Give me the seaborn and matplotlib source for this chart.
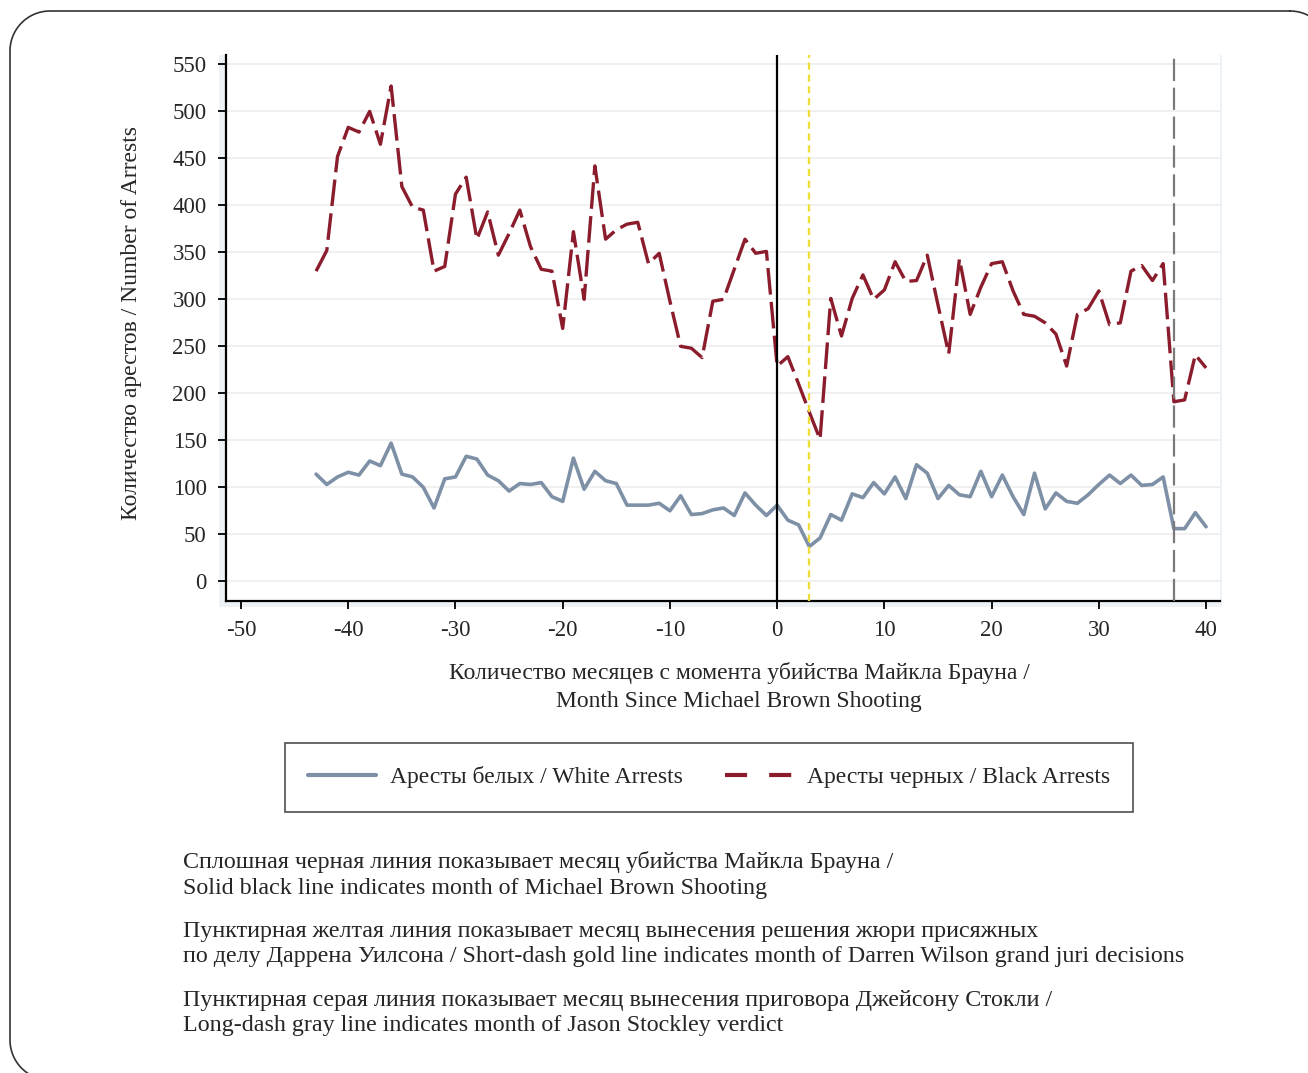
import matplotlib
matplotlib.use("Agg")
import matplotlib.pyplot as plt
from matplotlib.lines import Line2D
from matplotlib.patches import Rectangle
import numpy as np
import pandas as pd
import seaborn as sns

# ── Data ──────────────────────────────────────────────────────────────────
months = list(range(-43, 41))

white_arrests = [
    114, 103, 111, 116, 113, 128, 123, 147, 114, 111,   # -43 .. -34
    100, 78, 109, 111, 133, 130, 113, 107, 96, 104,     # -33 .. -24
    103, 105, 90, 85, 131, 98, 117, 107, 104, 81,       # -23 .. -14
    81, 81, 83, 75, 91, 71, 72, 76, 78, 70,             # -13 .. -4
    94, 81, 70, 81, 65, 60, 37, 46, 71, 65,             # -3 .. 6
    93, 89, 105, 93, 111, 88, 124, 115, 88, 102,        # 7 .. 16
    92, 90, 117, 90, 113, 90, 71, 115, 77, 94,          # 17 .. 26
    85, 83, 92, 103, 113, 104, 113, 102, 103, 111,      # 27 .. 36
    56, 56, 73, 58,                                     # 37 .. 40
]

black_arrests = [
    330, 352, 452, 483, 478, 500, 465, 527, 420, 398,   # -43 .. -34
    395, 330, 335, 412, 430, 364, 393, 347, 370, 395,   # -33 .. -24
    356, 332, 330, 269, 372, 300, 442, 364, 374, 380,   # -23 .. -14
    382, 338, 349, 298, 250, 248, 238, 298, 300, 332,   # -13 .. -4
    364, 349, 351, 229, 239, 210, 180, 151, 301, 261,   # -3 .. 6
    301, 326, 300, 310, 340, 319, 320, 347, 294, 242,   # 7 .. 16
    343, 284, 313, 338, 340, 309, 284, 282, 275, 263,   # 17 .. 26
    229, 284, 290, 309, 273, 275, 330, 336, 320, 338,   # 27 .. 36
    191, 193, 241, 227,                                 # 37 .. 40
]

event_months = [0, 3, 37]
x_ticks = list(range(-50, 41, 10))
y_ticks = list(range(0, 551, 50))

label_white = "Аресты белых / White Arrests"
label_black = "Аресты черных / Black Arrests"
x_title = "Количество месяцев с момента убийства Майкла Брауна /\nMonth Since Michael Brown Shooting"
y_title = "Количество арестов / Number of Arrests"
notes = [
    "Сплошная черная линия показывает месяц убийства Майкла Брауна /\n"
    "Solid black line indicates month of Michael Brown Shooting",
    "Пунктирная желтая линия показывает месяц вынесения решения жюри присяжных\n"
    "по делу Даррена Уилсона / Short-dash gold line indicates month of Darren Wilson grand juri decisions",
    "Пунктирная серая линия показывает месяц вынесения приговора Джейсону Стокли /\n"
    "Long-dash gray line indicates month of Jason Stockley verdict",
]

WHITE_C = "#7d90a6"
BLACK_C = "#8a1c2c"

df = pd.DataFrame({"month": months, "white": white_arrests, "black": black_arrests})

sns.set_theme(style="white")
plt.rcParams["font.family"] = ["Liberation Serif", "DejaVu Serif"]
plt.rcParams["axes.unicode_minus"] = False

W, H = 1308, 1073
fig = plt.figure(figsize=(W / 100, H / 100), dpi=100)
ax = fig.add_axes([226 / W, 1 - 601 / H, (1220 - 226) / W, (601 - 55) / H])
ax.set_zorder(2)

# light plot-region margin behind the axes
fig.patches.append(Rectangle((219 / W, 1 - 607 / H), (1222 - 219) / W, (607 - 55) / H,
                             transform=fig.transFigure, facecolor="#edf2f6",
                             edgecolor="none", zorder=0))

ax.set_facecolor("white")
ax.set_xlim(-51.4, 41.3)
ax.set_ylim(-21, 560)
for y in y_ticks:
    ax.axhline(y, color="#ededed", lw=1.2, zorder=0)

sns.lineplot(data=df, x="month", y="white", ax=ax, color=WHITE_C, lw=2.6, zorder=3)
sns.lineplot(data=df, x="month", y="black", ax=ax, color=BLACK_C, lw=2.4,
             zorder=3).lines[-1].set_dashes((8, 2.2))

ax.axvline(event_months[0], color="black", lw=1.6, zorder=4)
ax.axvline(event_months[1], color="#eedd3a", lw=1.7, ls=(0, (3, 2)), zorder=4)
ax.axvline(event_months[2], color="#7a7a7a", lw=1.6, ls=(0, (10, 3)), zorder=4)

ax.set_xticks(x_ticks)
ax.set_yticks(y_ticks)
ax.tick_params(axis="both", labelsize=16.5, length=6, width=1.3, color="black",
               direction="out", bottom=True, left=True, pad=8)
for s in ["top", "right"]:
    ax.spines[s].set_visible(False)
for s in ["left", "bottom"]:
    ax.spines[s].set_color("black")
    ax.spines[s].set_linewidth(1.6)
ax.set_xlabel("")
ax.set_ylabel("")

fig.text(132 / W, 1 - 323 / H, y_title, rotation=90, ha="center", va="center", fontsize=17)
fig.text(739 / W, 1 - 687 / H, x_title, ha="center", va="center", fontsize=17,
         linespacing=1.45, multialignment="center")

handles = [Line2D([], [], color=WHITE_C, lw=3),
           Line2D([], [], color=BLACK_C, lw=3, dashes=(5.3, 5.3))]
leg = fig.legend(handles, [label_white, label_black], loc="center",
                 bbox_to_anchor=(709 / W, 1 - 777.5 / H), ncol=2, fontsize=17,
                 frameon=True, fancybox=False, edgecolor="#222222",
                 handlelength=2.85, handletextpad=0.6, columnspacing=1.8,
                 borderpad=1.0)
leg.get_frame().set_linewidth(1.2)

note_y = [875, 944, 1013]
for ny, txt in zip(note_y, notes):
    fig.text(183 / W, 1 - ny / H, txt, ha="left", va="center", fontsize=17.3,
             linespacing=1.3)

# rounded outer frame, built in pixel coordinates (y measured from the top)
x0, x1, y0, y1, r = 10, 1330, 11, 1080, 40
t = np.linspace(0, np.pi / 2, 30)
corners = [
    (x1 - r, y0 + r, -np.pi / 2),   # top-right
    (x1 - r, y1 - r, 0.0),          # bottom-right
    (x0 + r, y1 - r, np.pi / 2),    # bottom-left
    (x0 + r, y0 + r, np.pi),        # top-left
]
fx, fy = [], []
for cx, cy, a0 in corners:
    fx.extend(cx + r * np.cos(a0 + t))
    fy.extend(cy + r * np.sin(a0 + t))
fx.append(fx[0])
fy.append(fy[0])
frame = Line2D(np.array(fx) / W, 1 - np.array(fy) / H, transform=fig.transFigure,
               color="#333333", lw=1.2)
fig.lines.append(frame)

fig.savefig("out.png", dpi=100)
